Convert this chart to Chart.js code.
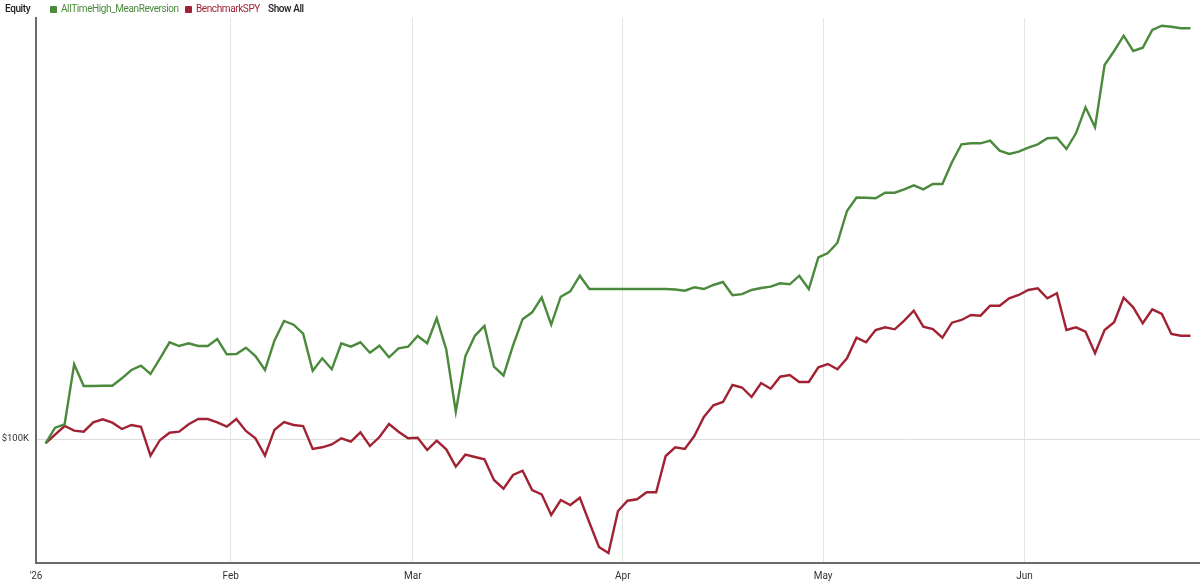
<!DOCTYPE html>
<html>
<head>
<meta charset="utf-8">
<script src="https://cdn.jsdelivr.net/npm/chart.js@4.4.1/dist/chart.umd.min.js"></script>
<style>
  html, body { margin: 0; padding: 0; background: #ffffff; }
  #wrap { position: relative; width: 1200px; height: 586px; }
  #legend { position: absolute; left: 0; top: 0; width: 1200px; height: 18px; font-family: Roboto, "Noto Sans", sans-serif; font-size: 10px; z-index: 2; }
  #legend span { position: absolute; top: 3px; line-height: 12px; white-space: nowrap; letter-spacing: -0.4px; }
  #legend i { position: absolute; top: 6px; width: 7px; height: 7px; border-radius: 1px; }
  canvas { position: absolute; left: 0; top: 0; }
</style>
</head>
<body>
<div id="wrap">
  <div id="legend"></div>
  <canvas id="c" width="1200" height="586"></canvas>
</div>
<script>
// ---- data (trading-day index = array position) ----
const chartTitle = "Equity";
const seriesNames = ["AllTimeHigh_MeanReversion", "BenchmarkSPY"];
const seriesColors = ["#4b8a3c", "#a12333"];
const showAllLabel = "Show All";

const strategyEquity = [
  99570, 101130, 101470, 107470, 105300, 105300, 105330, 105330, 106070, 106900,
  107330, 106500, 108070, 109670, 109300, 109570, 109300, 109300, 110000, 108470,
  108500, 109130, 108300, 106900, 109850, 111800, 111430, 110530, 106830, 108070,
  106970, 109570, 109230, 109670, 108630, 109330, 108170, 109070, 109230, 110300,
  109570, 112070, 108950, 102730, 108270, 110320, 111300, 107230, 106350, 109350,
  111980, 112670, 114150, 111430, 114230, 114770, 116330, 115000, 115000, 115000,
  115000, 115000, 115000, 115000, 115000, 115000, 114950, 114830, 115170, 115000,
  115400, 115700, 114370, 114480, 114900, 115100, 115230, 115570, 115470, 116330,
  115000, 118170, 118600, 119630, 122800, 124150, 124130, 124070, 124630, 124630,
  124970, 125370, 124970, 125500, 125500, 127670, 129470, 129570, 129570, 129830,
  128830, 128500, 128730, 129130, 129470, 130070, 130130, 129000, 130570, 133170,
  131170, 137400, 138800, 140330, 138800, 139130, 140900, 141330, 141230, 141070,
  141070
];

const benchmarkEquity = [
  99570, 100430, 101300, 100830, 100730, 101670, 101970, 101630, 101000, 101400,
  101230, 98330, 99900, 100630, 100730, 101470, 102000, 102000, 101670, 101230,
  102000, 100800, 100070, 98330, 100930, 101700, 101400, 101300, 99000, 99170,
  99450, 100070, 99730, 100670, 99300, 100200, 101500, 100730, 100070, 100130,
  98900, 99830, 98970, 97230, 98430, 98200, 97970, 95900, 95030, 96400,
  96830, 94900, 94470, 92400, 93900, 93400, 94130, 91650, 89200, 88600,
  92800, 93830, 93970, 94670, 94670, 98300, 99170, 99000, 100300, 102200,
  103370, 103700, 105400, 105150, 104200, 105600, 105030, 106230, 106400, 105700,
  105700, 107170, 107500, 106980, 108070, 110130, 109670, 110900, 111170, 110970,
  111830, 112830, 111230, 111000, 110130, 111630, 111900, 112400, 112330, 113330,
  113330, 114070, 114400, 114900, 115070, 114070, 114570, 110900, 111170, 110730,
  108570, 110900, 111670, 114130, 113170, 111570, 112970, 112500, 110500, 110330,
  110330
];

// month boundary ticks on the trading-day axis
const monthTickLabels = ["'26", "Feb", "Mar", "Apr", "May", "Jun"];
const monthTickPositions = [-1, 19.4, 38.5, 60.5, 81.5, 102.6];
const yTickValues = [100000];

// ---- legend (HTML text) ----
const legend = document.getElementById('legend');
function addSpan(text, left, color, weight) {
  const s = document.createElement('span');
  s.textContent = text; s.style.left = left + 'px'; s.style.color = color;
  if (weight) s.style.fontWeight = weight;
  legend.appendChild(s);
}
function addBox(left, color) {
  const b = document.createElement('i');
  b.style.left = left + 'px'; b.style.background = color;
  legend.appendChild(b);
}
addSpan(chartTitle, 5, '#222', '500');
addBox(50, seriesColors[0]);
addSpan(seriesNames[0], 61, seriesColors[0]);
addBox(185, seriesColors[1]);
addSpan(seriesNames[1], 196, seriesColors[1]);
addSpan(showAllLabel, 268, '#222', '500');

// ---- chart ----
const toPoints = arr => arr.map((v, i) => ({ x: i, y: v }));

new Chart(document.getElementById('c'), {
  type: 'line',
  data: {
    datasets: [
      { label: seriesNames[0], data: toPoints(strategyEquity), borderColor: seriesColors[0], borderWidth: 2.4, pointRadius: 0, tension: 0, fill: false },
      { label: seriesNames[1], data: toPoints(benchmarkEquity), borderColor: seriesColors[1], borderWidth: 2.4, pointRadius: 0, tension: 0, fill: false }
    ]
  },
  options: {
    responsive: false,
    animation: false,
    layout: { padding: { top: 18, left: 0, right: 0, bottom: 0 } },
    plugins: { legend: { display: false }, tooltip: { enabled: false }, title: { display: false } },
    scales: {
      x: {
        type: 'linear',
        min: -1,
        max: 121,
        afterBuildTicks: s => { s.ticks = monthTickPositions.map(v => ({ value: v })); },
        afterFit: s => { s.height = 23; },
        ticks: {
          autoSkip: false,
          maxRotation: 0,
          padding: 7,
          color: '#333',
          font: { family: 'Roboto, "Noto Sans", sans-serif', size: 10 },
          callback: (v, i) => monthTickLabels[i]
        },
        grid: { color: '#dfe7df', lineWidth: 1, drawTicks: false },
        border: { color: '#6b6b6b', width: 2 }
      },
      y: {
        type: 'linear',
        min: 87600,
        max: 142100,
        afterBuildTicks: s => { s.ticks = yTickValues.map(v => ({ value: v })); },
        afterFit: s => { s.width = 36; },
        ticks: {
          padding: 7,
          color: '#333',
          font: { family: 'Roboto, "Noto Sans", sans-serif', size: 9.5 },
          callback: v => '$' + (v / 1000) + 'K'
        },
        grid: { color: '#dedede', lineWidth: 1, drawTicks: false },
        border: { color: '#6b6b6b', width: 2 }
      }
    }
  }
});
</script>
</body>
</html>
